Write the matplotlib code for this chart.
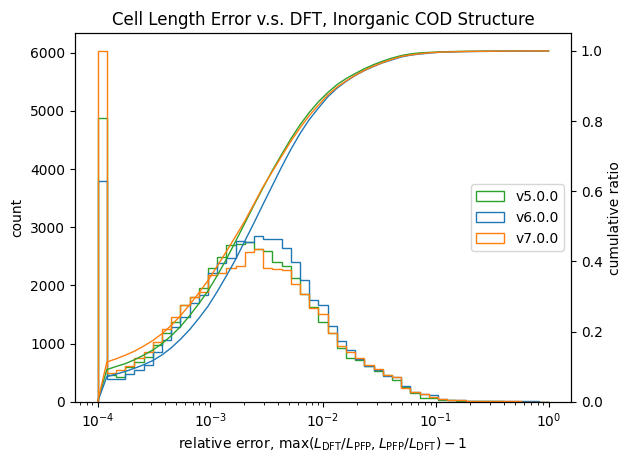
import matplotlib
matplotlib.use("Agg")
import matplotlib.pyplot as plt
import numpy as np

# histogram counts per log bin (49 bins from 1e-4 to 1)
VERSIONS = ["v5.0.0", "v6.0.0", "v7.0.0"]
COLORS = ["#2ca02c", "#1f77b4", "#ff7f0e"]

counts_v5 = [4870, 459, 430, 591, 688, 774, 975, 1175, 1376, 1663,
             1800, 1949, 2293, 2481, 2694, 2720, 2751, 2630, 2590, 2400,
             2332, 2121, 1855, 1622, 1365, 1190, 930, 762, 728, 614,
             530, 460, 375, 250, 150, 75, 75, 40, 29, 20,
             15, 12, 10, 8, 6, 5, 4, 3, 2]
counts_v6 = [3800, 385, 400, 476, 545, 630, 860, 1060, 1290, 1461,
             1700, 1834, 2207, 2379, 2480, 2768, 2751, 2849, 2792, 2792,
             2637, 2400, 2098, 1742, 1662, 1310, 1038, 895, 745, 622,
             556, 442, 430, 270, 172, 132, 115, 46, 40, 29,
             17, 17, 15, 12, 10, 8, 8, 20, 5]
counts_v7 = [6030, 488, 545, 614, 760, 860, 1030, 1260, 1460, 1660,
             1800, 1890, 2180, 2210, 2300, 2330, 2580, 2620, 2300, 2290,
             2260, 2030, 1850, 1610, 1505, 1185, 957, 860, 755, 628,
             560, 470, 430, 240, 165, 144, 86, 46, 40, 29,
             18, 15, 15, 10, 8, 12, 6, 5, 3]

edges = np.logspace(-4, 0, 50)

fig, ax = plt.subplots(figsize=(6.31, 4.63), dpi=100)
fig.subplots_adjust(left=0.119, right=0.905, bottom=0.132, top=0.928)
ax2 = ax.twinx()

for name, color, c in zip(VERSIONS, COLORS, [counts_v5, counts_v6, counts_v7]):
    c = np.asarray(c, dtype=float)
    ax.hist(edges[:-1], bins=edges, weights=c, histtype="step",
            color=color, label=name)
    cum = np.concatenate([[0.0], np.cumsum(c) / c.sum()])
    ax2.plot(edges, cum, color=color, lw=1)

ax.set_xscale("log")
ax.set_ylim(0, max(counts_v7) * 1.05)
ax2.set_ylim(0, 1.05)
ax.set_xlabel(r"relative error, $\max(L_\mathrm{DFT}/L_\mathrm{PFP}, L_\mathrm{PFP}/L_\mathrm{DFT}) - 1$")
ax.set_ylabel("count")
ax2.set_ylabel("cumulative ratio")
ax.set_title("Cell Length Error v.s. DFT, Inorganic COD Structure")
ax.legend(loc="center right")

fig.savefig("out.png", dpi=100)
